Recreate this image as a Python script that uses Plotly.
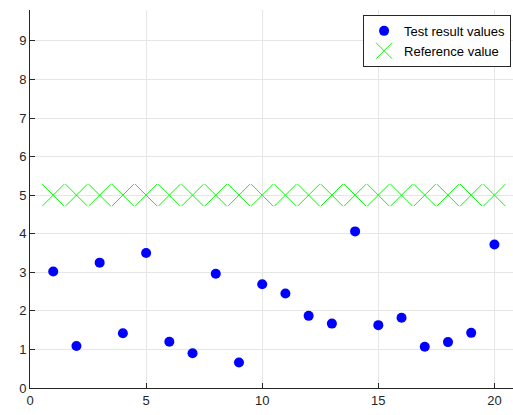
import plotly.graph_objects as go

# Sample index and measured test results
sample_idx = list(range(1, 21))
test_values = [3.02, 1.09, 3.25, 1.42, 3.50, 1.20, 0.90, 2.96, 0.66, 2.69,
               2.45, 1.87, 1.67, 4.06, 1.63, 1.82, 1.07, 1.19, 1.43, 3.72]
reference_values = [5.0] * 20

x_ticks = [0, 5, 10, 15, 20]
y_ticks = [0, 1, 2, 3, 4, 5, 6, 7, 8, 9]

fig = go.Figure()
fig.add_trace(go.Scatter(
    x=sample_idx, y=test_values, mode="markers", name="Test result values",
    marker=dict(symbol="circle", size=10, color="#0000ff", line=dict(width=0)),
))
fig.add_trace(go.Scatter(
    x=sample_idx, y=reference_values, mode="markers", name="Reference value",
    marker=dict(symbol="x-thin", size=22, color="#00ff00",
                line=dict(width=1, color="#00ff00")),
))

axis_font = dict(family="Liberation Sans, Arial, sans-serif", size=13, color="#262626")
fig.update_layout(
    width=513, height=415,
    margin=dict(l=30, r=0, t=10, b=27),
    paper_bgcolor="white", plot_bgcolor="white",
    showlegend=True,
    legend=dict(x=0.996, y=0.987, xanchor="right", yanchor="top",
                bgcolor="white", bordercolor="#262626", borderwidth=1,
                font=dict(family="Liberation Sans, Arial, sans-serif", size=13, color="black"),
                tracegroupgap=0, itemsizing="trace"),
    xaxis=dict(range=[0, 20.8], tickvals=x_ticks, showgrid=True, gridcolor="#e6e6e6",
               zeroline=False, showline=True, linecolor="#262626", linewidth=1,
               ticks="inside", ticklen=5, tickcolor="#262626", tickfont=axis_font),
    yaxis=dict(range=[0, 9.8], tickvals=y_ticks, showgrid=True, gridcolor="#e6e6e6",
               zeroline=False, showline=True, linecolor="#262626", linewidth=1,
               ticks="inside", ticklen=5, tickcolor="#262626", tickfont=axis_font),
)

fig.write_html("out.html")
